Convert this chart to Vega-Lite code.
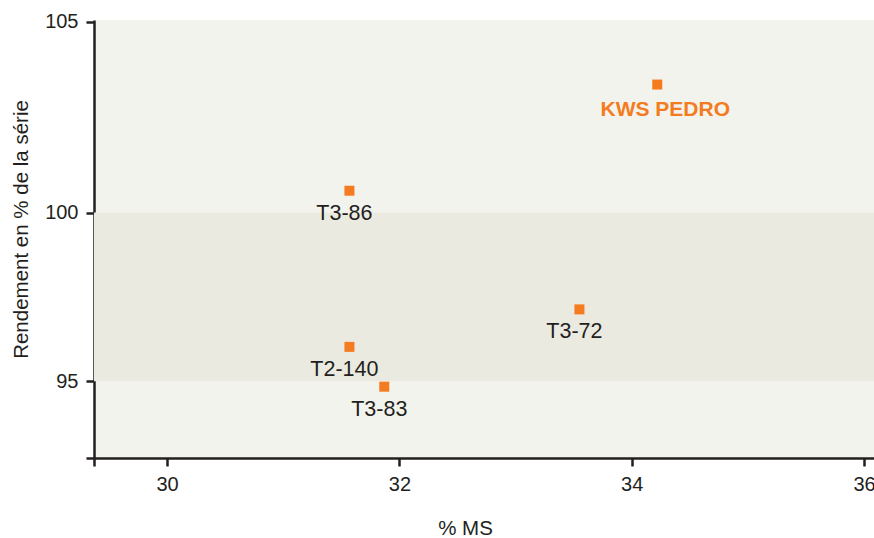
{
  "$schema": "https://vega.github.io/schema/vega-lite/v6.json",
  "width": 780,
  "height": 438,
  "autosize": {"type": "none"},
  "padding": {"left": 94, "top": 20, "right": 0, "bottom": 80},
  "background": "white",
  "config": {
    "view": {"fill": "#f3f3ee", "stroke": null},
    "font": "Liberation Sans",
    "axis": {"grid": false, "domainColor": "#231f20", "domainWidth": 2.5,
             "tickColor": "#231f20", "tickWidth": 2.5, "tickSize": 8,
             "labelFontSize": 20, "labelColor": "#231f20", "labelPadding": 8,
             "titleFontSize": 20.5, "titleFontWeight": "normal", "titleColor": "#231f20",
             "labelFont": "Liberation Sans", "titleFont": "Liberation Sans"}
  },
  "datasets": {
    "pts": [
      {"variete": "KWS PEDRO", "ms": 34.22, "rdt": 103.35},
      {"variete": "T3-86", "ms": 31.57, "rdt": 100.57},
      {"variete": "T3-72", "ms": 33.55, "rdt": 97.13},
      {"variete": "T2-140", "ms": 31.57, "rdt": 96.02},
      {"variete": "T3-83", "ms": 31.87, "rdt": 94.84}
    ],
    "band": [{"lo": 95, "hi": 100}]
  },
  "encoding": {
    "x": {"field": "ms", "type": "quantitative",
          "scale": {"domain": [29.371, 36.086], "nice": false, "zero": false},
          "axis": {"title": "% MS", "values": [29.371, 30, 32, 34, 36], "format": ".0f",
                   "labelExpr": "datum.value < 29.9 ? '' : datum.label",
                   "titleX": 371, "titleY": 76, "titleBaseline": "alphabetic"}},
    "y": {"field": "rdt", "type": "quantitative",
          "scale": {"type": "linear", "domain": [92.72, 95, 100, 105.04], "range": [438, 361.3, 192.5, 0], "nice": false, "zero": false},
          "axis": {"title": "Rendement en % de la série", "values": [92.72, 95, 100, 105], "format": ".0f",
                   "labelExpr": "datum.value < 94 ? '' : datum.label",
                   "titleX": -67, "titleY": 209, "titleBaseline": "alphabetic", "titleAngle": 270}}
  },
  "layer": [
    {
      "data": {"name": "band"},
      "mark": {"type": "rect", "color": "#ebeae0"},
      "encoding": {
        "x": null,
        "y": {"field": "lo", "type": "quantitative",
              "scale": {"type": "linear", "domain": [92.72, 95, 100, 105.04], "range": [438, 361.3, 192.5, 0], "nice": false, "zero": false},
              "axis": {"title": "Rendement en % de la série", "values": [92.72, 95, 100, 105], "format": ".0f",
                       "labelExpr": "datum.value < 94 ? '' : datum.label",
                       "titleX": -67, "titleY": 209, "titleBaseline": "alphabetic", "titleAngle": 270}},
        "y2": {"field": "hi"}
      }
    },
    {
      "data": {"name": "pts"},
      "mark": {"type": "square", "size": 100, "color": "#f47b20", "opacity": 1}
    },
    {
      "data": {"name": "pts"},
      "transform": [{"filter": "datum.variete != 'KWS PEDRO'"}],
      "mark": {"type": "text", "dx": -5, "dy": 29, "baseline": "alphabetic", "align": "center", "fontSize": 21.5, "color": "#231f20"},
      "encoding": {"text": {"field": "variete"}}
    },
    {
      "data": {"name": "pts"},
      "transform": [{"filter": "datum.variete == 'KWS PEDRO'"}],
      "mark": {"type": "text", "dx": 8, "dy": 31.5, "baseline": "alphabetic", "align": "center", "fontSize": 21, "fontWeight": "bold", "color": "#f47b20"},
      "encoding": {"text": {"field": "variete"}}
    }
  ]
}
